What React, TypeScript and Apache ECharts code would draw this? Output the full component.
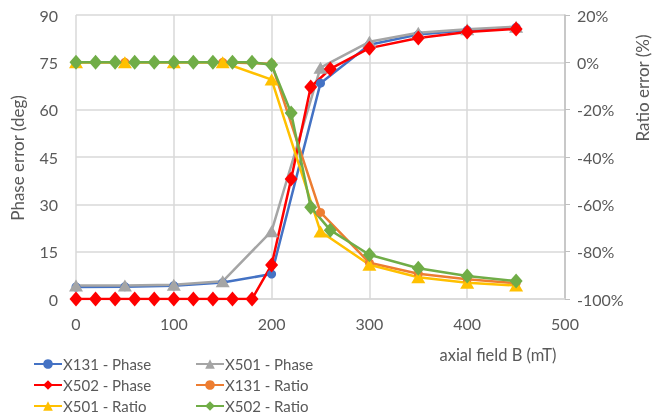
import React, { useEffect, useRef } from "react";
import * as echarts from "echarts";

const B_50 = [0, 50, 100, 150, 200, 250, 300, 350, 400, 450];
const B_20 = [0, 20, 40, 60, 80, 100, 120, 140, 160, 180, 200, 220, 240, 260, 300, 350, 400, 450];

const X131_PHASE = [3.8, 3.9, 4.2, 5.2, 7.9, 68.4, 80.6, 83.8, 85.2, 86.1];
const X501_PHASE = [4.3, 4.3, 4.5, 5.6, 21.5, 73.3, 81.5, 84.4, 85.5, 86.3];
const X502_PHASE = [0, 0, 0, 0, 0, 0, 0, 0, 0, 0, 10.8, 38, 67.2, 72.9, 79.5, 82.7, 84.6, 85.6];
const X131_RATIO = [0, 0, 0, 0, -0.6, -63.4, -84.7, -89.3, -91.7, -93.3];
const X501_RATIO = [0, 0, 0, 0, -7.3, -71.5, -85.5, -90.8, -93.1, -94.3];
const X502_RATIO = [0, 0, 0, 0, 0, 0, 0, 0, 0, 0, -1.0, -21.4, -61.2, -70.9, -81.3, -87.0, -90.3, -92.4];

const X_TICKS = { min: 0, max: 500, interval: 100 };
const PHASE_TICKS = { min: 0, max: 90, interval: 15 };
const RATIO_TICKS = { min: -100, max: 20, interval: 20 };

const SERIES_NAMES = ["X131 - Phase", "X501 - Phase", "X502 - Phase", "X131 - Ratio", "X501 - Ratio", "X502 - Ratio"];

const zip = (xs: number[], ys: number[]) => xs.map((x, i) => [x, ys[i]]);

const FONT = "Lato";
const TXT = "#595959";

export default function App() {
  const ref = useRef<HTMLDivElement>(null);
  useEffect(() => {
    if (!ref.current) return;
    const chart = echarts.init(ref.current, null, { renderer: "svg" });
    const mk = (name: string, xs: number[], ys: number[], color: string, symbol: string, size: any, yAxisIndex: number) => ({
      name,
      type: "line",
      yAxisIndex,
      data: zip(xs, ys),
      symbol,
      symbolSize: size,
      showSymbol: true,
      lineStyle: { color, width: 2.5 },
      itemStyle: { color, borderWidth: 0 },
    });
    const legends = SERIES_NAMES.map((name, i) => ({
      orient: "horizontal",
      left: i % 2 === 0 ? 33 : 195,
      top: 356 + Math.floor(i / 2) * 21,
      padding: 0,
      itemWidth: 28,
      itemHeight: 12,
      textStyle: { color: TXT, fontSize: 15, lineHeight: 16, fontFamily: FONT, padding: [0, 0, 0, -4] },
      data: [name],
    }));
    chart.setOption({
      animation: false,
      textStyle: { fontFamily: FONT },
      grid: { left: 76, right: 99, top: 15, bottom: 120 },
      xAxis: {
        type: "value",
        ...X_TICKS,
        axisLine: { show: true, lineStyle: { color: "#D9D9D9", width: 1.5 } },
        axisTick: { show: false },
        axisLabel: { color: TXT, fontSize: 16, fontFamily: FONT, margin: 16 },
        splitLine: { show: true, lineStyle: { color: "#D9D9D9", width: 1.5 } },
      },
      yAxis: [
        {
          type: "value",
          ...PHASE_TICKS,
          position: "left",
          axisLine: { show: false },
          axisTick: { show: false },
          axisLabel: { color: TXT, fontSize: 16, fontFamily: FONT, margin: 18 },
          splitLine: { show: true, lineStyle: { color: "#D9D9D9", width: 1.5 } },
        },
        {
          type: "value",
          ...RATIO_TICKS,
          position: "right",
          axisLine: { show: true, lineStyle: { color: "#BFBFBF", width: 1.5 } },
          axisTick: { show: true, inside: false, length: 5, lineStyle: { color: "#BFBFBF" } },
          axisLabel: { color: TXT, fontSize: 16, fontFamily: FONT, margin: 12, formatter: "{value}%" },
          splitLine: { show: false },
        },
      ],
      legend: legends,
      graphic: [
        {
          type: "text",
          x: 17,
          y: 158,
          rotation: Math.PI / 2,
          style: { text: "Phase error (deg)", fill: TXT, font: `17px ${FONT}`, align: "center", verticalAlign: "middle" },
        },
        {
          type: "text",
          x: 642,
          y: 88,
          rotation: Math.PI / 2,
          style: { text: "Ratio error (%)", fill: TXT, font: `17px ${FONT}`, align: "center", verticalAlign: "middle" },
        },
        {
          type: "text",
          x: 498,
          y: 355,
          style: { text: "axial field B (mT)", fill: TXT, font: `16.5px ${FONT}`, align: "center", verticalAlign: "middle" },
        },
      ],
      series: [
        mk(SERIES_NAMES[0], B_50, X131_PHASE, "#4472C4", "circle", 9, 0),
        mk(SERIES_NAMES[1], B_50, X501_PHASE, "#A5A5A5", "triangle", [14, 12], 0),
        mk(SERIES_NAMES[2], B_20, X502_PHASE, "#FF0000", "diamond", [13, 15], 0),
        mk(SERIES_NAMES[3], B_50, X131_RATIO, "#ED7D31", "circle", 9, 1),
        mk(SERIES_NAMES[4], B_50, X501_RATIO, "#FFC000", "triangle", [14, 12], 1),
        mk(SERIES_NAMES[5], B_20, X502_RATIO, "#70AD47", "diamond", [13, 15], 1),
      ],
    });
    return () => chart.dispose();
  }, []);
  return <div ref={ref} style={{ position: "fixed", left: 0, top: 0, width: 664, height: 419 }} />;
}
